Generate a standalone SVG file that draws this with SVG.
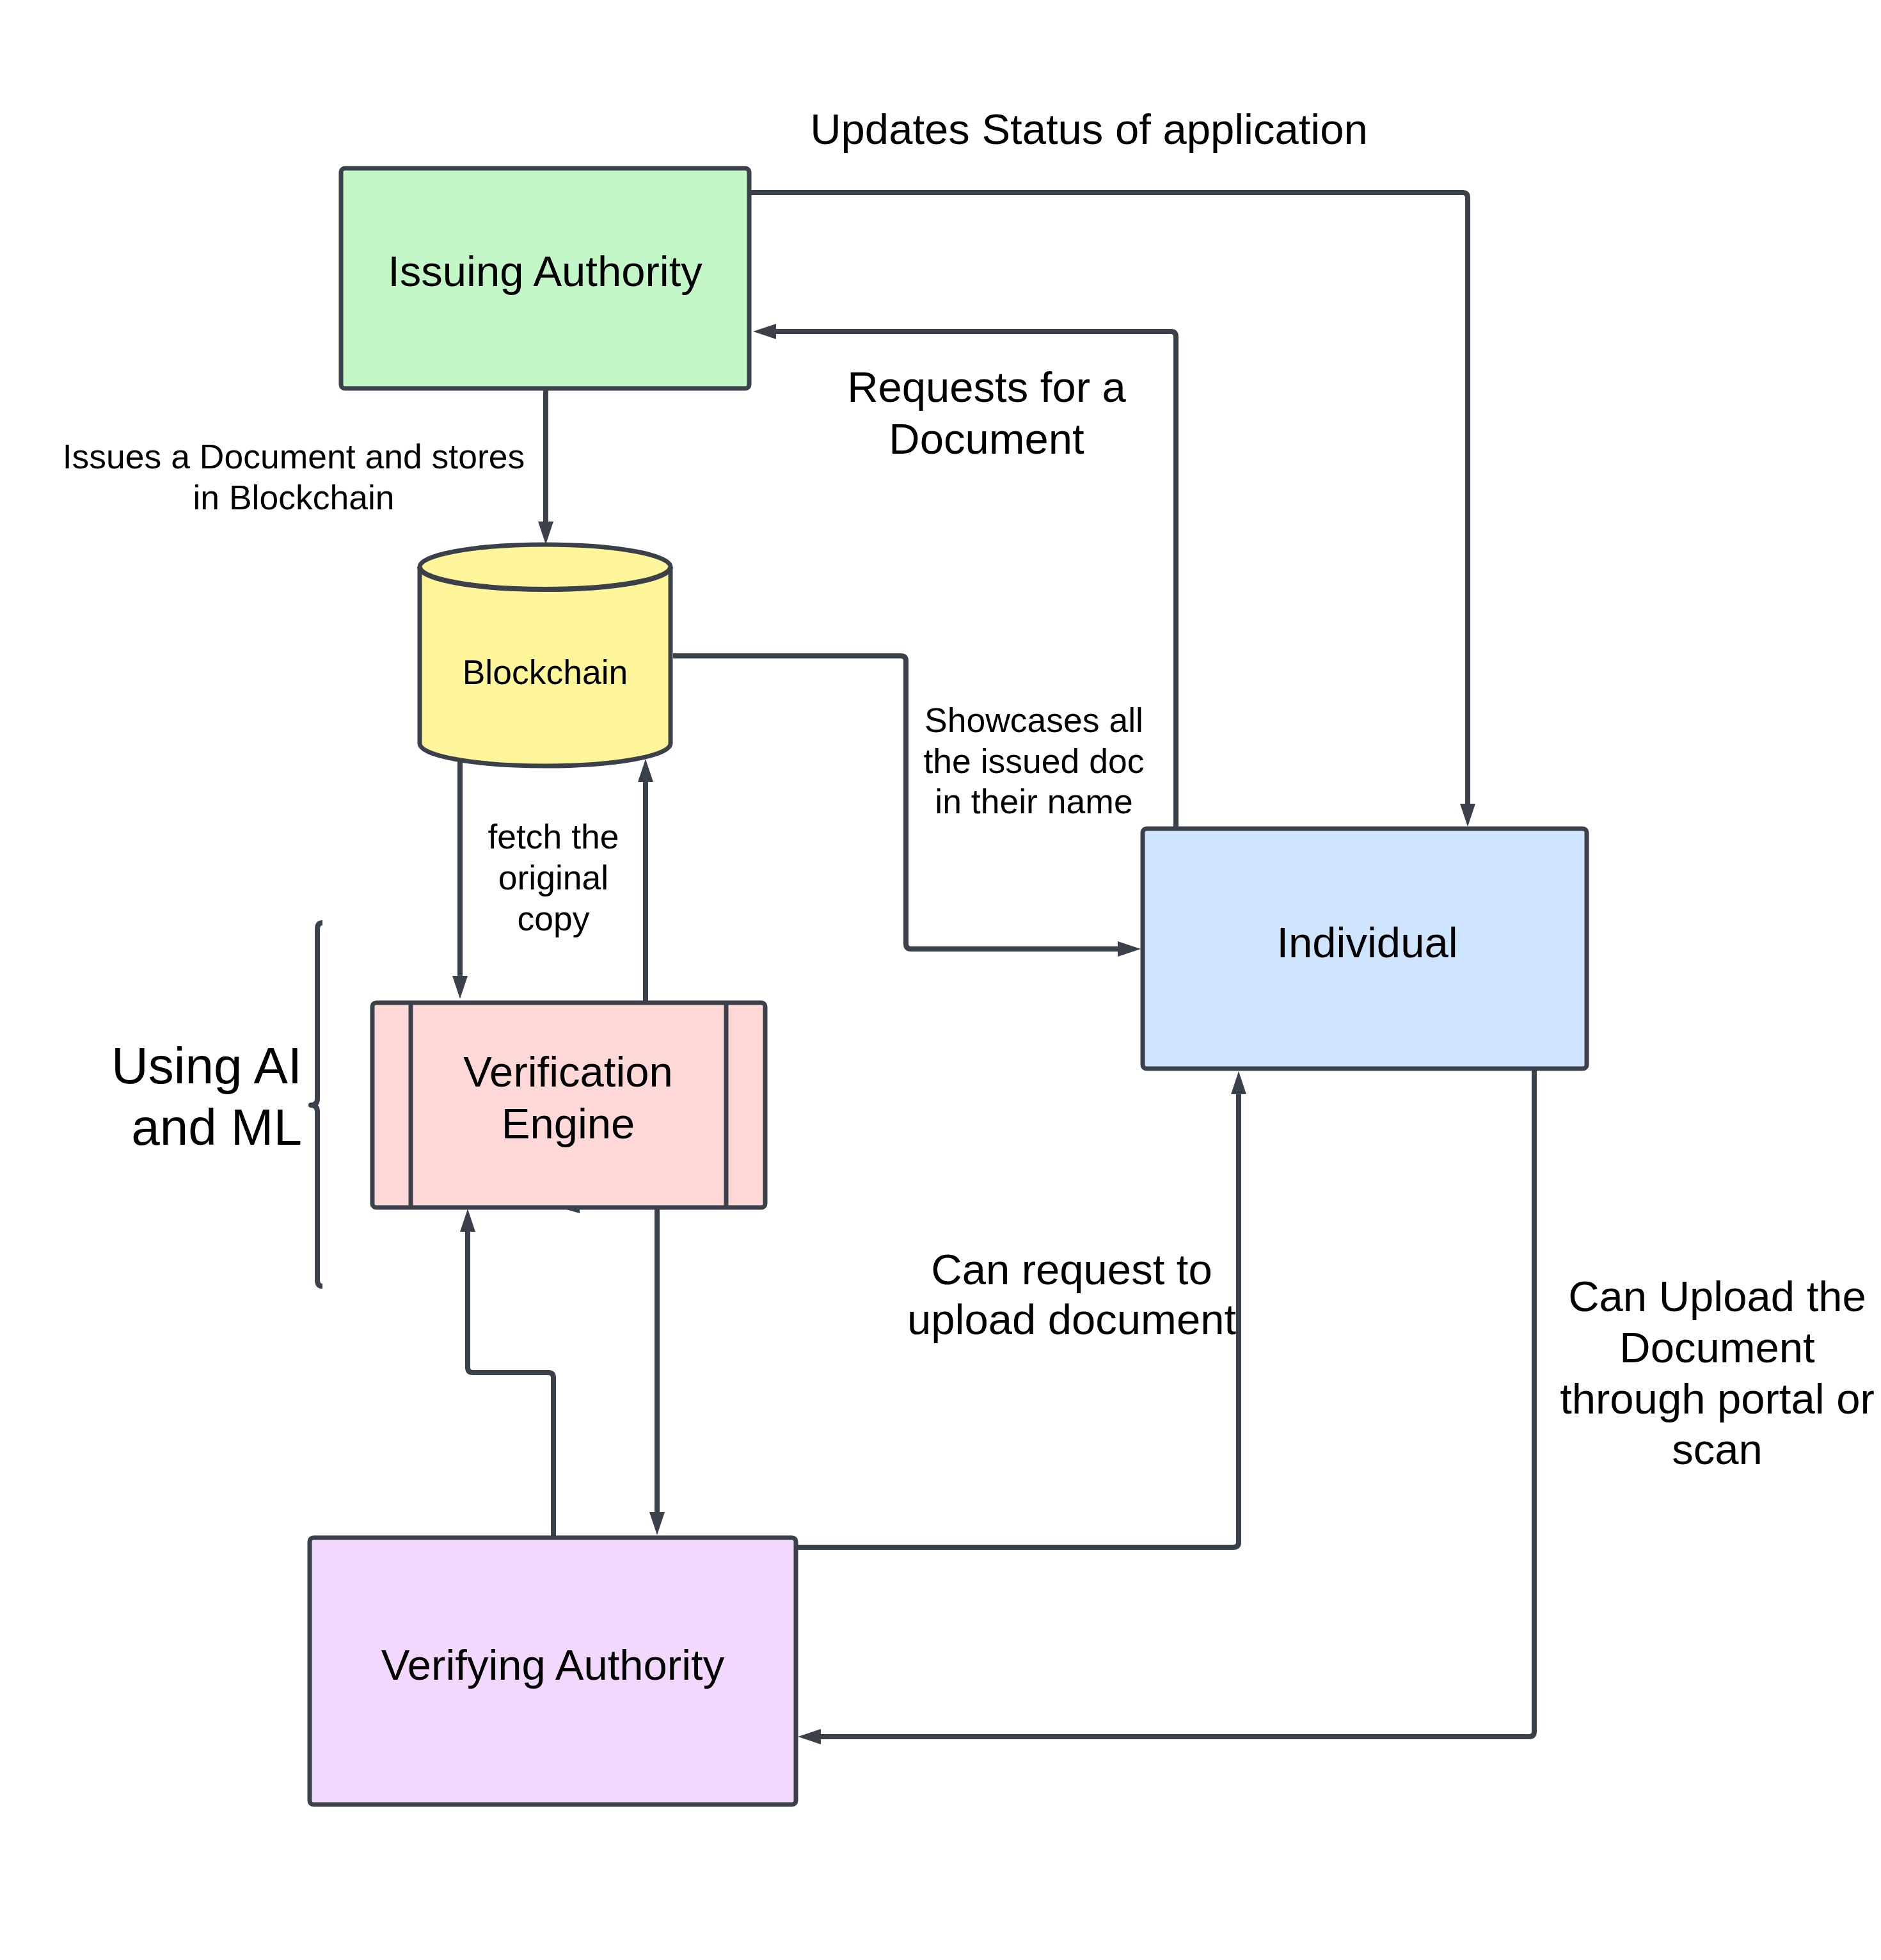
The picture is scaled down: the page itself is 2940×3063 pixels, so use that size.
<svg xmlns="http://www.w3.org/2000/svg" width="2940" height="3063" viewBox="0 0 2940 3063">
<style>
.n{stroke:#3a414a;stroke-width:7;stroke-linejoin:round}
.c{fill:none;stroke:#3a414a;stroke-width:8;stroke-linejoin:round}
text{font-family:"Liberation Sans",Arial,sans-serif;fill:#000;text-anchor:middle}
.big{font-size:67px}
.sm{font-size:53.5px}
</style>
<defs>
<marker id="ah" markerUnits="userSpaceOnUse" markerWidth="40" markerHeight="26" refX="6" refY="12" orient="auto">
<path d="M0,0 L36,12 L0,24 Z" fill="#3a414a"/>
</marker>
</defs>
<rect width="2940" height="3063" fill="#fff"/>
<g id="connectors">
<path class="c" marker-end="url(#ah)" d="M1174,301 H2286 Q2294,301 2294,309 V1262"/>
<path class="c" marker-end="url(#ah)" d="M1838,1292 V526 Q1838,518 1830,518 H1207"/>
<path class="c" marker-end="url(#ah)" d="M853,608 V821"/>
<path class="c" marker-end="url(#ah)" d="M1052,1025 H1408 Q1416,1025 1416,1033 V1475 Q1416,1483 1424,1483 H1753"/>
<path class="c" marker-end="url(#ah)" d="M719,1188 V1531"/>
<path class="c" marker-end="url(#ah)" d="M1009,1566 V1216"/>
<path class="c" marker-end="url(#ah)" d="M865,2401 V2153 Q865,2145 857,2145 H739 Q731,2145 731,2137 V1919"/>
<path class="c" marker-end="url(#ah)" d="M1027,1886 V2369"/>
<path class="c" marker-end="url(#ah)" d="M1244,2418 H1928 Q1936,2418 1936,2410 V1704"/>
<path class="c" marker-end="url(#ah)" d="M2398,1670 V2706 Q2398,2714 2390,2714 H1277"/>
<polygon points="878,1888 906,1881 906,1896" fill="#3a414a"/>
</g>
<g id="issuing-authority">
<rect class="n" x="533" y="263" width="638" height="344" rx="6" fill="#c3f7c8"/>
<text class="big" x="852" y="447">Issuing Authority</text>
</g>
<g id="blockchain">
<path class="n" fill="#fff69c" d="M656,886 V1162 A196,35 0 0 0 1048,1162 V886 A196,35 0 0 0 656,886 Z"/>
<path class="c" stroke-width="7" d="M656,886 A196,35 0 0 0 1048,886"/>
<text class="sm" x="852" y="1069">Blockchain</text>
</g>
<g id="individual">
<rect class="n" x="1786" y="1295" width="694" height="375" rx="6" fill="#cfe4ff"/>
<text class="big" x="2137" y="1496">Individual</text>
</g>
<g id="verification-engine">
<rect class="n" x="582" y="1567" width="614" height="320" rx="6" fill="#ffd8d8"/>
<line class="n" x1="642" y1="1567" x2="642" y2="1887"/>
<line class="n" x1="1135" y1="1567" x2="1135" y2="1887"/>
<text class="big" x="888" y="1698">Verification</text>
<text class="big" x="888" y="1779">Engine</text>
</g>
<g id="verifying-authority">
<rect class="n" x="484" y="2403" width="760" height="417" rx="6" fill="#f2d8fc"/>
<text class="big" x="864" y="2625">Verifying Authority</text>
</g>
<g id="ai-ml-brace">
<path class="c" stroke-width="6" d="M504,1442 Q496,1442 496,1452 V1717 Q496,1727 486,1727 Q496,1727 496,1737 V2000 Q496,2010 504,2010"/>
<text x="472" y="1693" style="font-size:80px;text-anchor:end">Using AI</text>
<text x="472" y="1789" style="font-size:80px;text-anchor:end">and ML</text>
</g>
<g id="labels">
<text class="big" x="1702" y="225">Updates Status of application</text>
<text class="big" x="1542" y="628">Requests for a</text>
<text class="big" x="1542" y="709">Document</text>
<text class="sm" x="459" y="732">Issues a Document and stores</text>
<text class="sm" x="459" y="796">in Blockchain</text>
<text class="sm" x="1616" y="1144">Showcases all</text>
<text class="sm" x="1616" y="1208">the issued doc</text>
<text class="sm" x="1616" y="1271">in their name</text>
<text class="sm" x="865" y="1326">fetch the</text>
<text class="sm" x="865" y="1390">original</text>
<text class="sm" x="865" y="1454">copy</text>
<text class="big" x="1675" y="2007">Can request to</text>
<text class="big" x="1675" y="2085">upload document</text>
<text class="big" x="2684" y="2049">Can Upload the</text>
<text class="big" x="2684" y="2129">Document</text>
<text class="big" x="2684" y="2209">through portal or</text>
<text class="big" x="2684" y="2288">scan</text>
</g>
</svg>
